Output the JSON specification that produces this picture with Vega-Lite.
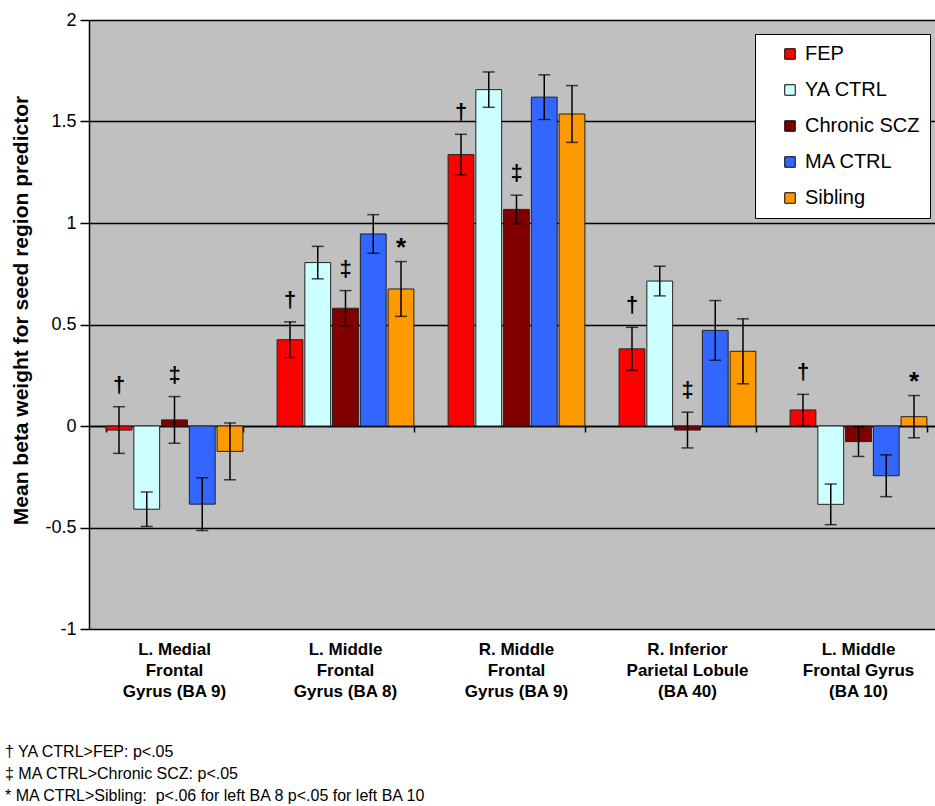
{
  "$schema": "https://vega.github.io/schema/vega-lite/v6.json",
  "width": 855,
  "height": 609,
  "autosize": "none",
  "padding": {"left": 89, "top": 20, "right": 0, "bottom": 177},
  "background": "white",
  "config": {
    "view": {"fill": "#c0c0c0", "stroke": null},
    "font": "Liberation Sans",
    "axisY": {
      "grid": true, "gridColor": "black", "gridWidth": 1.5, "gridOpacity": 1,
      "domainColor": "black", "domainWidth": 1.5,
      "tickColor": "black", "tickWidth": 1.5, "tickSize": 9,
      "labelFontSize": 18, "labelColor": "black", "labelPadding": 4, "labelFont": "Liberation Sans",
      "titleFontSize": 21, "titleFontWeight": "bold", "titleColor": "black", "titlePadding": 13, "titleFont": "Liberation Sans",
      "titleY": 290
    }
  },
  "title": {
    "text": ["† YA CTRL>FEP: p<.05", "‡ MA CTRL>Chronic SCZ: p<.05", "* MA CTRL>Sibling: \u00a0p<.06 for left BA 8 p<.05 for left BA 10"],
    "orient": "bottom", "anchor": "start", "frame": "bounds",
    "font": "Liberation Sans", "fontSize": 16, "fontWeight": "normal",
    "lineHeight": 22, "offset": 45, "color": "black", "dx": -6
  },
  "data": {"values": [
    {"region": "L. Medial|Frontal|Gyrus (BA 9)", "group": "FEP", "mean": -0.02, "err": 0.115, "sig": "†"},
    {"region": "L. Medial|Frontal|Gyrus (BA 9)", "group": "YA CTRL", "mean": -0.41, "err": 0.085, "sig": ""},
    {"region": "L. Medial|Frontal|Gyrus (BA 9)", "group": "Chronic SCZ", "mean": 0.03, "err": 0.115, "sig": "‡"},
    {"region": "L. Medial|Frontal|Gyrus (BA 9)", "group": "MA CTRL", "mean": -0.385, "err": 0.13, "sig": ""},
    {"region": "L. Medial|Frontal|Gyrus (BA 9)", "group": "Sibling", "mean": -0.125, "err": 0.14, "sig": ""},
    {"region": "L. Middle|Frontal|Gyrus (BA 8)", "group": "FEP", "mean": 0.425, "err": 0.088, "sig": "†"},
    {"region": "L. Middle|Frontal|Gyrus (BA 8)", "group": "YA CTRL", "mean": 0.805, "err": 0.08, "sig": ""},
    {"region": "L. Middle|Frontal|Gyrus (BA 8)", "group": "Chronic SCZ", "mean": 0.58, "err": 0.087, "sig": "‡"},
    {"region": "L. Middle|Frontal|Gyrus (BA 8)", "group": "MA CTRL", "mean": 0.946, "err": 0.095, "sig": ""},
    {"region": "L. Middle|Frontal|Gyrus (BA 8)", "group": "Sibling", "mean": 0.675, "err": 0.135, "sig": "*"},
    {"region": "R. Middle|Frontal|Gyrus (BA 9)", "group": "FEP", "mean": 1.337, "err": 0.1, "sig": "†"},
    {"region": "R. Middle|Frontal|Gyrus (BA 9)", "group": "YA CTRL", "mean": 1.657, "err": 0.087, "sig": ""},
    {"region": "R. Middle|Frontal|Gyrus (BA 9)", "group": "Chronic SCZ", "mean": 1.067, "err": 0.07, "sig": "‡"},
    {"region": "R. Middle|Frontal|Gyrus (BA 9)", "group": "MA CTRL", "mean": 1.62, "err": 0.11, "sig": ""},
    {"region": "R. Middle|Frontal|Gyrus (BA 9)", "group": "Sibling", "mean": 1.537, "err": 0.14, "sig": ""},
    {"region": "R. Inferior|Parietal Lobule|(BA 40)", "group": "FEP", "mean": 0.38, "err": 0.106, "sig": "†"},
    {"region": "R. Inferior|Parietal Lobule|(BA 40)", "group": "YA CTRL", "mean": 0.714, "err": 0.073, "sig": ""},
    {"region": "R. Inferior|Parietal Lobule|(BA 40)", "group": "Chronic SCZ", "mean": -0.02, "err": 0.088, "sig": "‡"},
    {"region": "R. Inferior|Parietal Lobule|(BA 40)", "group": "MA CTRL", "mean": 0.471, "err": 0.147, "sig": ""},
    {"region": "R. Inferior|Parietal Lobule|(BA 40)", "group": "Sibling", "mean": 0.368, "err": 0.16, "sig": ""},
    {"region": "L. Middle|Frontal Gyrus|(BA 10)", "group": "FEP", "mean": 0.079, "err": 0.077, "sig": "†"},
    {"region": "L. Middle|Frontal Gyrus|(BA 10)", "group": "YA CTRL", "mean": -0.386, "err": 0.1, "sig": ""},
    {"region": "L. Middle|Frontal Gyrus|(BA 10)", "group": "Chronic SCZ", "mean": -0.077, "err": 0.073, "sig": ""},
    {"region": "L. Middle|Frontal Gyrus|(BA 10)", "group": "MA CTRL", "mean": -0.245, "err": 0.103, "sig": ""},
    {"region": "L. Middle|Frontal Gyrus|(BA 10)", "group": "Sibling", "mean": 0.046, "err": 0.104, "sig": "*"}
  ]},
  "transform": [
    {"calculate": "datum.mean - datum.err", "as": "lo"},
    {"calculate": "datum.mean + datum.err", "as": "hi"}
  ],
  "encoding": {
    "xOffset": {"field": "group", "type": "nominal", "sort": ["FEP", "YA CTRL", "Chronic SCZ", "MA CTRL", "Sibling"], "scale": {"paddingInner": 0.07, "paddingOuter": 0}}
  },
  "layer": [
    {
      "mark": {"type": "bar", "stroke": "#222222", "strokeWidth": 1},
      "encoding": {
        "x": {"field": "region", "type": "nominal", "sort": null, "scale": {"paddingInner": 0.2, "paddingOuter": 0.1},
          "axis": {"title": null, "orient": "bottom", "domain": false, "ticks": false, "grid": false, "labelAngle": 0,
            "labelExpr": "split(datum.label, '|')", "labelFont": "Liberation Sans", "labelFontSize": 17,
            "labelFontWeight": "bold", "labelLineHeight": 21, "labelPadding": 12, "labelColor": "black", "labelLimit": 0}},
        "y": {"field": "mean", "type": "quantitative", "scale": {"domain": [-1, 2], "nice": false, "zero": false},
          "title": "Mean beta weight for seed region predictor",
          "axis": {"values": [-1, -0.5, 0, 0.5, 1, 1.5, 2],
            "labelExpr": "datum.value < 0 ? '-' + format(-datum.value, '~g') : format(datum.value, '~g')"}},
        "color": {"field": "group", "type": "nominal",
          "scale": {"domain": ["FEP", "YA CTRL", "Chronic SCZ", "MA CTRL", "Sibling"], "range": ["#ff0000", "#ccffff", "#800000", "#3366ff", "#ff9900"]},
          "legend": {"title": null, "orient": "none", "legendX": 666, "legendY": 14, "fillColor": "white", "strokeColor": "black",
            "padding": 10, "symbolType": "square", "symbolSize": 110, "symbolStrokeColor": "black", "symbolStrokeWidth": 1,
            "symbolOffset": 15, "labelFontSize": 20, "labelColor": "black", "labelFont": "Liberation Sans", "rowPadding": 16, "labelOffset": 5}}
      }
    },
    {
      "mark": {"type": "rule", "color": "black", "strokeWidth": 1.5},
      "encoding": {
        "x": {"field": "region", "type": "nominal", "sort": null,
          "axis": {"title": null, "orient": "bottom", "offset": -203, "labels": false, "grid": false, "domain": true,
            "domainColor": "black", "domainWidth": 1.5, "ticks": true, "tickBand": "extent", "tickSize": 6,
            "tickColor": "black", "tickWidth": 1.5}},
        "y": {"field": "lo", "type": "quantitative", "title": "Mean beta weight for seed region predictor"},
        "y2": {"field": "hi"}
      }
    },
    {
      "mark": {"type": "tick", "color": "black", "thickness": 1.5, "size": 12},
      "encoding": {
        "x": {"field": "region", "type": "nominal", "sort": null, "axis": null},
        "y": {"field": "lo", "type": "quantitative", "title": "Mean beta weight for seed region predictor"}
      }
    },
    {
      "mark": {"type": "tick", "color": "black", "thickness": 1.5, "size": 12},
      "encoding": {
        "x": {"field": "region", "type": "nominal", "sort": null, "axis": null},
        "y": {"field": "hi", "type": "quantitative", "title": "Mean beta weight for seed region predictor"}
      }
    },
    {
      "transform": [{"filter": "datum.sig == '†' || datum.sig == '‡'"}],
      "mark": {"type": "text", "color": "black", "fontSize": 22, "fontWeight": "bold", "baseline": "middle", "dy": -22, "font": "Liberation Sans"},
      "encoding": {
        "x": {"field": "region", "type": "nominal", "sort": null, "axis": null},
        "y": {"field": "hi", "type": "quantitative", "title": "Mean beta weight for seed region predictor"},
        "text": {"field": "sig"}
      }
    },
    {
      "transform": [{"filter": "datum.sig == '*'"}],
      "mark": {"type": "text", "color": "black", "fontSize": 26, "fontWeight": "bold", "baseline": "middle", "dy": -14, "font": "Liberation Sans"},
      "encoding": {
        "x": {"field": "region", "type": "nominal", "sort": null, "axis": null},
        "y": {"field": "hi", "type": "quantitative", "title": "Mean beta weight for seed region predictor"},
        "text": {"field": "sig"}
      }
    }
  ],
  "resolve": {"axis": {"x": "independent"}}
}
